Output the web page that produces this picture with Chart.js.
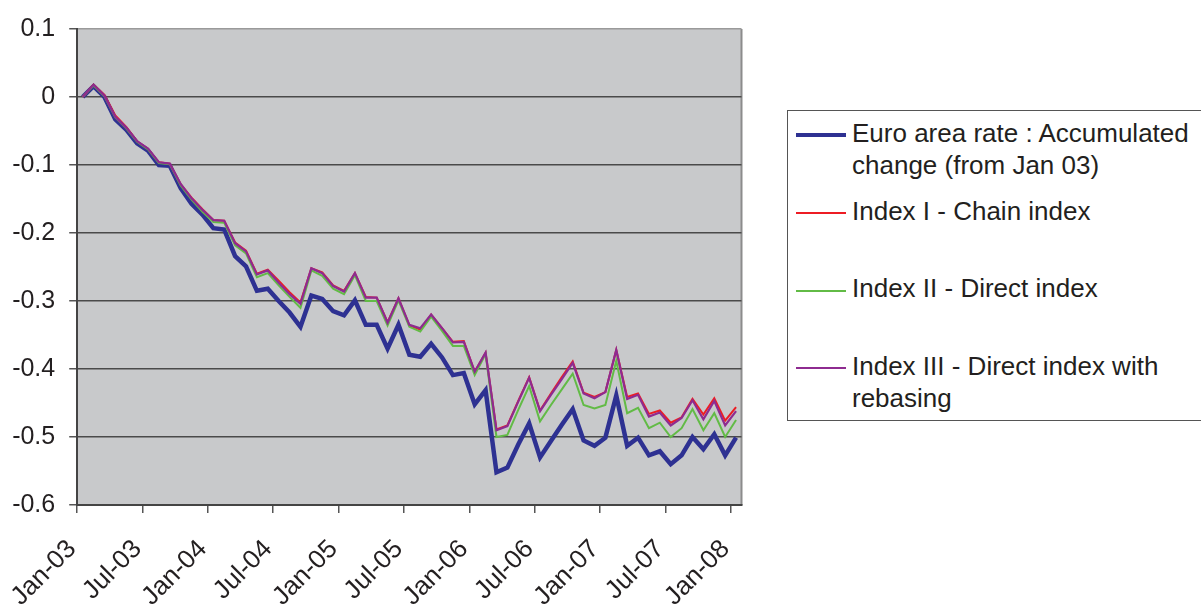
<!DOCTYPE html>
<html>
<head>
<meta charset="utf-8">
<script src="https://cdn.jsdelivr.net/npm/chart.js@4.4.1/dist/chart.umd.min.js"></script>
<style>
html,body{margin:0;padding:0;background:#fff;overflow:hidden;}
#wrap{position:relative;width:1201px;height:606px;overflow:hidden;}
#chart{position:absolute;left:0;top:0;}
#legend{position:absolute;left:787px;top:110px;width:440px;height:311px;border:1px solid #555;border-right:none;box-sizing:border-box;background:#fff;
  font-family:"Liberation Sans",Arial,Helvetica,sans-serif;font-size:26px;color:#231f20;}
.swatch{position:absolute;left:8px;width:50px;}
.txt{position:absolute;left:64px;line-height:32px;white-space:nowrap;}
</style>
</head>
<body>
<div id="wrap">
  <canvas id="chart" width="1201" height="606"></canvas>
  <div id="legend"></div>
</div>
<script>
// Tick labels on the category (monthly) axis, one every 6 months
const tickLabels = ['Jan-03','Jul-03','Jan-04','Jul-04','Jan-05','Jul-05','Jan-06','Jul-06','Jan-07','Jul-07','Jan-08'];

// Monthly categories Jan-03 .. Jan-08
const monthNames = ['Jan','Feb','Mar','Apr','May','Jun','Jul','Aug','Sep','Oct','Nov','Dec'];
const categories = [];
for (let y = 3; y <= 8; y++) {
  for (let m = 0; m < 12; m++) {
    if (y === 8 && m > 0) break;
    categories.push(monthNames[m] + '-0' + y);
  }
}

const seriesNames = [
  ['Euro area rate : Accumulated', 'change (from Jan 03)'],
  ['Index I - Chain index'],
  ['Index II - Direct index'],
  ['Index III - Direct index with', 'rebasing']
];

const euroArea = [
  0.000, 0.016, 0.000, -0.033, -0.048, -0.068, -0.079, -0.100, -0.101, -0.134,
  -0.157, -0.173, -0.193, -0.195, -0.234, -0.249, -0.285, -0.282, -0.300, -0.317,
  -0.338, -0.292, -0.297, -0.315, -0.321, -0.299, -0.335, -0.335, -0.370, -0.335,
  -0.379, -0.382, -0.363, -0.383, -0.409, -0.406, -0.452, -0.431, -0.552, -0.545,
  -0.511, -0.480, -0.530, -0.506, -0.482, -0.459, -0.505, -0.513, -0.501, -0.439,
  -0.513, -0.501, -0.527, -0.521, -0.540, -0.527, -0.500, -0.518, -0.496, -0.527,
  -0.501
];

const indexI = [
  0.000, 0.018, 0.003, -0.027, -0.044, -0.065, -0.076, -0.096, -0.098, -0.128,
  -0.148, -0.165, -0.181, -0.182, -0.214, -0.226, -0.260, -0.254, -0.270, -0.287,
  -0.302, -0.252, -0.258, -0.277, -0.285, -0.259, -0.294, -0.295, -0.331, -0.296,
  -0.336, -0.342, -0.320, -0.340, -0.360, -0.359, -0.404, -0.376, -0.489, -0.483,
  -0.447, -0.412, -0.461, -0.436, -0.412, -0.389, -0.435, -0.441, -0.434, -0.372,
  -0.441, -0.436, -0.466, -0.461, -0.479, -0.471, -0.444, -0.467, -0.443, -0.476,
  -0.456
];

const indexII = [
  0.000, 0.017, 0.001, -0.030, -0.046, -0.066, -0.077, -0.097, -0.099, -0.130,
  -0.151, -0.169, -0.184, -0.185, -0.218, -0.230, -0.265, -0.259, -0.277, -0.294,
  -0.310, -0.255, -0.263, -0.282, -0.290, -0.262, -0.300, -0.300, -0.336, -0.299,
  -0.338, -0.345, -0.323, -0.344, -0.366, -0.366, -0.409, -0.378, -0.500, -0.497,
  -0.460, -0.425, -0.477, -0.453, -0.430, -0.407, -0.453, -0.458, -0.453, -0.388,
  -0.465, -0.457, -0.487, -0.479, -0.500, -0.487, -0.459, -0.490, -0.465, -0.500,
  -0.475
];

const indexIII = [
  0.000, 0.018, 0.002, -0.029, -0.045, -0.065, -0.076, -0.096, -0.098, -0.128,
  -0.149, -0.166, -0.181, -0.182, -0.215, -0.227, -0.261, -0.255, -0.273, -0.290,
  -0.304, -0.252, -0.259, -0.278, -0.286, -0.259, -0.295, -0.295, -0.332, -0.296,
  -0.335, -0.340, -0.320, -0.340, -0.361, -0.360, -0.404, -0.376, -0.490, -0.484,
  -0.448, -0.413, -0.462, -0.438, -0.415, -0.391, -0.436, -0.443, -0.434, -0.372,
  -0.444, -0.438, -0.470, -0.464, -0.483, -0.472, -0.446, -0.474, -0.447, -0.483,
  -0.462
];

const seriesColors = ['#2e3192', '#ed1c24', '#62bb46', '#8e2b90'];
const seriesWidths = [4.5, 2, 2, 2.2];
const seriesValues = [euroArea, indexI, indexII, indexIII];

const toPoints = arr => arr.map((v, i) => ({ x: i, y: v }));

const plotBg = {
  id: 'plotBg',
  beforeDraw(chart) {
    const { ctx, chartArea: a } = chart;
    ctx.save();
    ctx.fillStyle = '#c8c9cb';
    ctx.fillRect(a.left, a.top, a.right - a.left, a.bottom - a.top);
    ctx.strokeStyle = '#8c8c8c';
    ctx.lineWidth = 2;
    ctx.beginPath();
    ctx.moveTo(a.right, a.top);
    ctx.lineTo(a.right, a.bottom);
    ctx.stroke();
    ctx.restore();
  }
};

const yFont = { family: '"Liberation Sans", Arial, Helvetica, sans-serif', size: 25 };
const xFont = { family: '"Liberation Sans", Arial, Helvetica, sans-serif', size: 26 };

const chart = new Chart(document.getElementById('chart'), {
  type: 'line',
  data: {
    datasets: seriesValues.map((vals, k) => ({
      label: seriesNames[k].join(' '),
      data: toPoints(vals),
      borderColor: seriesColors[k],
      backgroundColor: seriesColors[k],
      borderWidth: seriesWidths[k],
      pointRadius: 0,
      tension: 0,
      fill: false,
      order: 4 - k
    }))
  },
  options: {
    responsive: false,
    animation: false,
    layout: { padding: { left: 0, top: 27, right: 459.5, bottom: 0 } },
    plugins: { legend: { display: false }, tooltip: { enabled: false } },
    scales: {
      x: {
        type: 'linear',
        min: -0.5,
        max: categories.length - 0.5,
        afterBuildTicks: scale => {
          scale.ticks = tickLabels.map((_, k) => ({ value: -0.5 + 6 * k }));
        },
        afterFit: scale => { scale.height = 101; },
        ticks: {
          autoSkip: false,
          maxRotation: 45,
          minRotation: 45,
          padding: 21,
          labelOffset: -5,
          color: '#231f20',
          font: xFont,
          callback: v => tickLabels[Math.round((v + 0.5) / 6)]
        },
        grid: { display: true, drawOnChartArea: false, drawTicks: true, tickLength: 8, color: '#555', lineWidth: 1.5 },
        border: { display: true, color: '#444', width: 2 }
      },
      y: {
        min: -0.6,
        max: 0.1,
        afterFit: scale => { scale.width = 76; },
        ticks: {
          stepSize: 0.1,
          padding: 14,
          color: '#231f20',
          font: yFont,
          callback: v => String(Number(v.toFixed(1)))
        },
        grid: {
          drawTicks: true,
          tickLength: 8,
          color: ctx => (Math.abs(ctx.tick.value - 0.1) < 1e-6 ? '#9a9a9a' : '#4a4a4a'),
          tickColor: '#555',
          lineWidth: 1.5
        },
        border: { display: true, color: '#444', width: 2 }
      }
    }
  },
  plugins: [plotBg]
});

// HTML legend built from the chart's datasets
const legend = document.getElementById('legend');
chart.data.datasets.forEach((ds, k) => {
  const top = 5.7 + 77.8 * k;
  const sw = document.createElement('div');
  sw.className = 'swatch';
  const h = k === 0 ? 4 : 2;
  sw.style.top = (top + 18.3 - h / 2) + 'px';
  sw.style.height = h + 'px';
  sw.style.background = ds.borderColor;
  legend.appendChild(sw);
  const tx = document.createElement('div');
  tx.className = 'txt';
  tx.style.top = top + 'px';
  tx.innerHTML = seriesNames[k].join('<br>');
  legend.appendChild(tx);
});
</script>
</body>
</html>
